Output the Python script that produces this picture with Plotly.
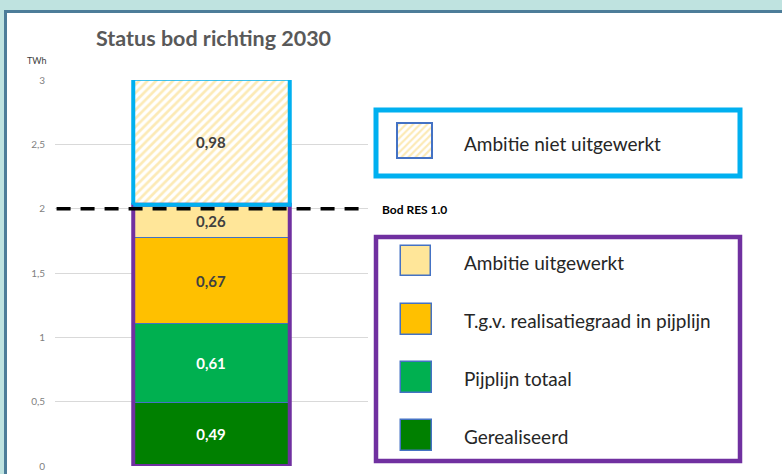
import plotly.graph_objects as go
import numpy as np

# ---- data ----
categories = ["Gerealiseerd", "Pijplijn totaal", "T.g.v. realisatiegraad in pijplijn",
              "Ambitie uitgewerkt", "Ambitie niet uitgewerkt"]
values = [0.49, 0.61, 0.67, 0.26, 0.98]
bod_res_value = 2.0
bod_res_label = "Bod RES 1.0"
title_text = "Status bod richting 2030"
unit_label = "TWh"
tick_values = [0, 0.5, 1, 1.5, 2, 2.5, 3]

# ---- styles ----
colors = ["#008000", "#00b050", "#ffc000", "#ffe699", "#ffffff"]
text_colors = ["#ffffff", "#ffffff", "#404040", "#404040", "#404040"]
hatched = [False, False, False, False, True]
hatch_color = "#f9d56e"
BLUE = "#00b0f0"
PURPLE = "#7030a0"
FONT = "Lato"
W, H = 782, 474

bases = np.concatenate([[0], np.cumsum(values)[:-1]])
tops = np.cumsum(values)

fig = go.Figure()

bar_x = 0.5
bar_w = 0.5
for name, v, b, c, tc, h in zip(categories, values, bases, colors, text_colors, hatched):
    marker = dict(color=c, line=dict(color="#4472c4", width=1))
    if h:
        marker["pattern"] = dict(shape="/", fgcolor=hatch_color, bgcolor="#ffffff",
                                 size=6, solidity=0.45)
    fig.add_trace(go.Bar(
        x=[bar_x], y=[v], base=[b], width=bar_w, name=name, marker=marker,
        texttemplate="%{y:.2f}", textposition="inside", insidetextanchor="middle",
        textangle=0, textfont=dict(family=FONT, size=15, color=tc, weight="bold"),
        xaxis="x", yaxis="y", showlegend=False, hoverinfo="skip",
    ))

# group borders (purple around realised + planned, blue around unworked ambition)
x0, x1 = bar_x - bar_w / 2, bar_x + bar_w / 2
lower_top = tops[3]
fig.add_trace(go.Scatter(x=[x0, x1, x1, x0, x0], y=[0, 0, lower_top, lower_top, 0],
                         mode="lines", line=dict(color=PURPLE, width=4),
                         cliponaxis=False, showlegend=False, hoverinfo="skip"))
fig.add_trace(go.Scatter(x=[x0, x1, x1, x0, x0],
                         y=[lower_top, lower_top, tops[4], tops[4], lower_top],
                         mode="lines", line=dict(color=BLUE, width=4),
                         cliponaxis=False, showlegend=False, hoverinfo="skip"))

# Bod RES 1.0 dashed line
fig.add_trace(go.Scatter(x=[0.005, 0.995], y=[bod_res_value, bod_res_value], mode="lines",
                         line=dict(color="#000000", width=3.5, dash="14px,10px"),
                         cliponaxis=False, showlegend=False, hoverinfo="skip"))

# ---- custom legend swatches (pixel axes x2/y2) ----
legend_order = [4, 3, 2, 1, 0]
sw_tops = [123, 246, 304, 362, 420]
sw_sizes = [35, 30, 31, 31, 31]
sw_lefts = [397, 401, 401, 401, 401]
text_y = [143, 262, 320, 378, 436]
for k, idx in enumerate(legend_order):
    marker = dict(color=colors[idx], line=dict(color="#4472c4", width=2 if k == 0 else 1.5))
    if hatched[idx]:
        marker["pattern"] = dict(shape="/", fgcolor=hatch_color, bgcolor="#ffffff",
                                 size=5, solidity=0.45)
    s = sw_sizes[k]
    fig.add_trace(go.Bar(x=[sw_lefts[k] + s / 2], y=[s], base=[sw_tops[k]], width=s,
                         marker=marker, xaxis="x2", yaxis="y2", showlegend=False,
                         hoverinfo="skip"))

shapes = []
def px(x):
    return x / W
def py(y):
    return 1 - y / H

# white panel with steel-blue border
shapes.append(dict(type="rect", xref="paper", yref="paper", x0=px(5.5), y0=-0.1,
                   x1=1.1, y1=py(11.5), fillcolor="#ffffff",
                   line=dict(color="#4d7d99", width=3), layer="below"))
# legend group boxes
shapes.append(dict(type="rect", xref="paper", yref="paper", x0=px(376), x1=px(740),
                   y0=py(176), y1=py(110), line=dict(color=BLUE, width=5)))
shapes.append(dict(type="rect", xref="paper", yref="paper", x0=px(376), x1=px(740),
                   y0=py(461), y1=py(237), line=dict(color=PURPLE, width=4.5)))

annotations = []
annotations.append(dict(text=title_text, xref="paper", yref="paper", x=px(94), y=py(38),
                        xanchor="left", yanchor="middle", showarrow=False,
                        font=dict(family=FONT, size=21.5, color="#595959", weight="bold")))
annotations.append(dict(text=unit_label, xref="paper", yref="paper", x=px(37), y=py(61),
                        xanchor="center", yanchor="middle", showarrow=False,
                        font=dict(family=FONT, size=9, color="#404040")))
annotations.append(dict(text=bod_res_label, xref="paper", yref="paper", x=px(380), y=py(209),
                        xanchor="left", yanchor="middle", showarrow=False,
                        font=dict(family=FONT, size=12, color="#000000", weight="bold")))
for k, idx in enumerate(legend_order):
    annotations.append(dict(text=categories[idx], xref="paper", yref="paper", x=px(462),
                            y=py(text_y[k]), xanchor="left", yanchor="middle",
                            showarrow=False,
                            font=dict(family=FONT, size=19, color="#262626")))

fig.update_layout(
    width=W, height=H, margin=dict(l=0, r=0, t=0, b=0, pad=0, autoexpand=False),
    paper_bgcolor="#bfe3e0", plot_bgcolor="rgba(0,0,0,0)",
    barmode="overlay", bargap=0,
    separators=",.",
    shapes=shapes, annotations=annotations,
    xaxis=dict(domain=[55 / W, 368 / W], range=[0, 1], visible=False, fixedrange=True,
               automargin=False),
    yaxis=dict(domain=[(H - 466) / H, (H - 80) / H], range=[0, 3], tickvals=tick_values,
               showgrid=True, gridcolor="#d9d9d9", gridwidth=1, zeroline=False,
               showline=False, ticks="", ticklabelstandoff=9, automargin=False,
               tickfont=dict(family=FONT, size=10, color="#7f7f7f")),
    xaxis2=dict(domain=[0, 1], range=[0, W], visible=False, anchor="y2", automargin=False),
    yaxis2=dict(domain=[0, 1], range=[H, 0], visible=False, anchor="x2", automargin=False),
)

post = (
    "document.documentElement.style.margin='0';"
    "document.documentElement.style.overflow='hidden';"
    "document.body.style.margin='0';"
    "document.body.style.padding='0';"
    "document.body.style.overflow='hidden';"
    "var gd=document.getElementById('{plot_id}');"
    "gd.style.position='fixed';gd.style.top='0px';gd.style.left='0px';"
)
fig.write_html("out.html", config={"displayModeBar": False}, post_script=post)
